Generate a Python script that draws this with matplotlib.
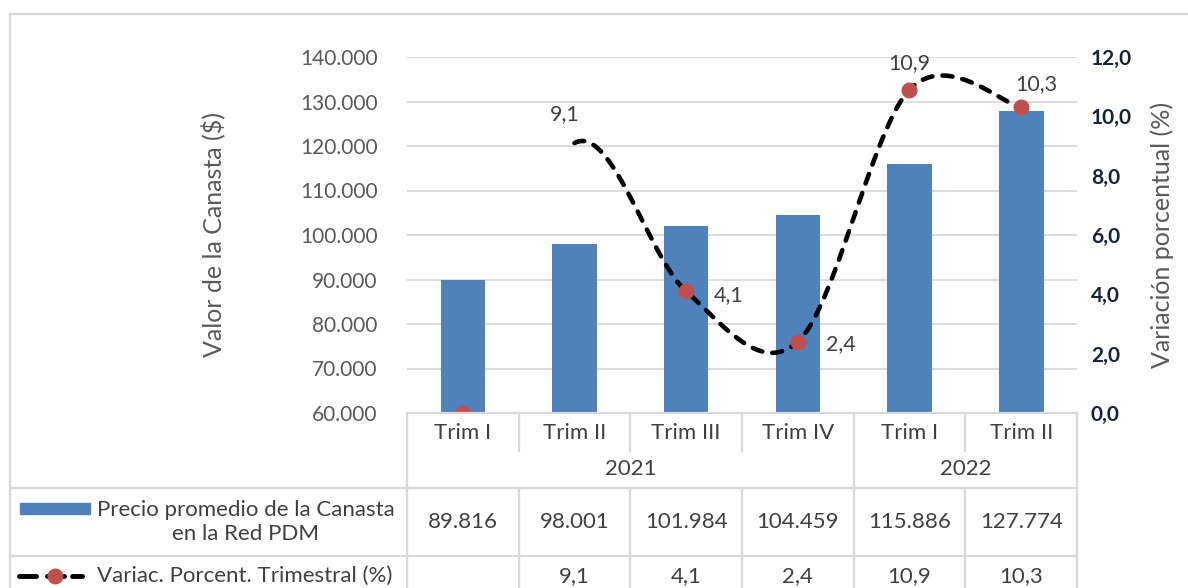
import matplotlib.pyplot as plt
import numpy as np
from matplotlib.lines import Line2D
from matplotlib.patches import Rectangle
from matplotlib.ticker import FuncFormatter
from matplotlib.transforms import blended_transform_factory

plt.rcParams['font.family'] = ['Lato', 'DejaVu Sans']

# datos
trimestres = ['Trim I', 'Trim II', 'Trim III', 'Trim IV', 'Trim I', 'Trim II']
anios = ['2021', '2022']
trim_por_anio = [4, 2]
precio = [89816, 98001, 101984, 104459, 115886, 127774]
variacion = [0.0, 9.1, 4.1, 2.4, 10.9, 10.3]
serie_precio = 'Precio promedio de la Canasta\nen la Red PDM'
serie_var = 'Variac. Porcent. Trimestral (%)'

AZUL = '#4F81BD'
ROJO = '#C0504D'
GRIS_LINEA = '#D9D9D9'
TXT = '#404040'
FS = 16

W, H = 1188, 588
fig = plt.figure(figsize=(W / 100, H / 100), dpi=100)


def fx(px):
    return px / W


def fy(py):
    return 1 - py / H


ax_l, ax_r, ax_t, ax_b = 407, 1077, 57, 413
ax = fig.add_axes([fx(ax_l), fy(ax_b), fx(ax_r - ax_l), (ax_b - ax_t) / H])
x = np.arange(len(trimestres))

ax.bar(x, precio, width=0.4, color=AZUL, zorder=2)
ax.set_xlim(-0.5, len(x) - 0.5)
ax.set_ylim(60000, 140000)
ax.set_yticks(np.arange(60000, 140001, 10000))
ax.yaxis.set_major_formatter(FuncFormatter(lambda v, p: f'{int(v):,}'.replace(',', '.')))
ax.tick_params(axis='y', length=0, pad=21, labelsize=15, labelcolor='#595959')
ax.set_xticks([])
ax.yaxis.grid(True, color=GRIS_LINEA, lw=1.3)
ax.set_axisbelow(True)
for s in ax.spines.values():
    s.set_visible(False)

ax2 = ax.twinx()
ax2.set_ylim(0, 12)
ax2.set_yticks(np.arange(0, 12.1, 2))
ax2.yaxis.set_major_formatter(FuncFormatter(lambda v, p: f'{v:.1f}'.replace('.', ',')))
ax2.tick_params(axis='y', length=0, pad=10, labelsize=15, labelcolor='#17233A')
for lab in ax2.get_yticklabels():
    lab.set_fontweight('bold')
for s in ax2.spines.values():
    s.set_visible(False)


# linea suavizada tipo Excel (bezier catmull-rom)
def curva_suave(xs, ys, n=50):
    xs = np.asarray(xs, float)
    ys = np.asarray(ys, float)
    pts = np.column_stack([xs, ys])
    ext = np.vstack([pts[0], pts, pts[-1]])
    segs = []
    t = np.linspace(0, 1, n)[:, None]
    for i in range(len(pts) - 1):
        p0, p1, p2, p3 = ext[i], ext[i + 1], ext[i + 2], ext[i + 3]
        c1 = p1 + (p2 - p0) / 6
        c2 = p2 - (p3 - p1) / 6
        segs.append((1 - t) ** 3 * p1 + 3 * (1 - t) ** 2 * t * c1
                    + 3 * (1 - t) * t ** 2 * c2 + t ** 3 * p2)
    return segs


segs = curva_suave(x, variacion)
curva = np.vstack(segs[1:])
ax2.plot(curva[:, 0], curva[:, 1], color='black', lw=3.3, ls=(0, (2.2, 2.2)),
         dash_capstyle='round', zorder=3)
con_marca = [0, 2, 3, 4, 5]
ax2.plot(x[con_marca], np.array(variacion)[con_marca], 'o', color=ROJO, ms=10.5, zorder=4)

offs = {1: (-7, 21), 2: (20, -3), 3: (20, -2), 4: (0, 19), 5: (11, 17)}
has = {1: 'center', 2: 'left', 3: 'left', 4: 'center', 5: 'center'}
for i, (dx, dy) in offs.items():
    ax2.annotate(f'{variacion[i]:.1f}'.replace('.', ','), (x[i], variacion[i]),
                 xytext=(dx, dy), textcoords='offset points', ha=has[i], va='center',
                 fontsize=15.5, color=TXT)

# ejes titulos
fig.text(fx(213), fy(235), 'Valor de la Canasta ($)', rotation=90, ha='center', va='center',
         fontsize=18, color='#595959')
fig.text(fx(1162), fy(235), 'Variación porcentual (%)', rotation=90, ha='center', va='center',
         fontsize=18, color='#595959')

# borde exterior
fig.add_artist(Line2D([fx(10), 1], [fy(14), fy(14)], color=GRIS_LINEA, lw=1.6))
fig.add_artist(Line2D([fx(10), fx(10)], [fy(14), 0], color=GRIS_LINEA, lw=1.6))

# tabla de datos
tr = blended_transform_factory(ax.transData, fig.transFigure)
kw = dict(color=GRIS_LINEA, lw=1.6, transform=tr, clip_on=False)
xl, xr = -0.5, len(x) - 0.5
fig.add_artist(Line2D([xl, xr], [fy(413), fy(413)], **kw))
for yy in (488, 556):
    fig.add_artist(Line2D([fx(10), fx(ax_r)], [fy(yy), fy(yy)], color=GRIS_LINEA, lw=1.6))
corte = np.cumsum(trim_por_anio)[:-1] - 0.5
for xv in [xl, xr] + list(corte):
    fig.add_artist(Line2D([xv, xv], [fy(413), 0], **kw))
for xv in np.arange(0.5, len(x) - 0.5):
    if xv in corte:
        continue
    fig.add_artist(Line2D([xv, xv], [fy(413), fy(451)], **kw))
    fig.add_artist(Line2D([xv, xv], [fy(488), 0], **kw))

for i, t in enumerate(trimestres):
    fig.text(x[i], fy(433), t, transform=tr, ha='center', va='center', fontsize=FS, color=TXT)
ini = 0
for a, n in zip(anios, trim_por_anio):
    fig.text(ini + (n - 1) / 2, fy(469), a, transform=tr, ha='center', va='center',
             fontsize=FS, color=TXT)
    ini += n
for i in range(len(x)):
    fig.text(x[i], fy(522), f'{precio[i]:,}'.replace(',', '.'), transform=tr,
             ha='center', va='center', fontsize=FS, color=TXT)
    if i > 0:
        fig.text(x[i], fy(576), f'{variacion[i]:.1f}'.replace('.', ','), transform=tr,
                 ha='center', va='center', fontsize=FS, color=TXT)

# leyendas de la tabla
fig.add_artist(Rectangle((fx(20), fy(514)), fx(70), 11 / H, color=AZUL))
fig.text(fx(246), fy(522), serie_precio, ha='center', va='center', fontsize=FS, color=TXT,
         linespacing=1.25)
for x0, x1 in [(19, 36), (47, 64), (72, 82)]:
    fig.add_artist(Line2D([fx(x0), fx(x1)], [fy(576), fy(576)], color='black', lw=3.5,
                          solid_capstyle='round'))
fig.add_artist(Line2D([fx(55)], [fy(576)], marker='o', color=ROJO, ms=10.5))
fig.text(fx(97), fy(576), serie_var, ha='left', va='center', fontsize=FS, color=TXT)

fig.savefig('out.png', dpi=100)
